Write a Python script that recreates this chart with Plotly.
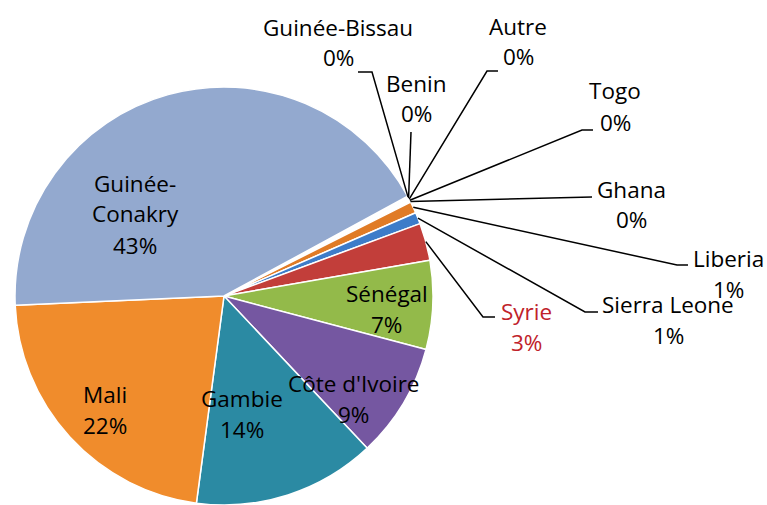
import math
import plotly.graph_objects as go

# ---- data (clockwise order, starting at the top-right small slices) ----
labels = ["Guinée-Bissau", "Benin", "Autre", "Togo", "Ghana", "Liberia",
          "Sierra Leone", "Syrie", "Sénégal", "Côte d'Ivoire", "Gambie",
          "Mali", "Guinée-Conakry"]
values = [0.1, 0.1, 0.1, 0.1, 0.1, 0.9, 0.9, 2.9, 6.9, 8.9, 14.2, 22.3, 43.0]

# ---- style ----
colors = ["#8C8C8C", "#4BACC6", "#A5A5A5", "#6F8FC0", "#3FA0BF", "#E07B26",
          "#3D7CC9", "#C23E3A", "#93BA4A", "#7557A1", "#2B8AA3", "#F08C2C",
          "#93A9CF"]
label_colors = {"Syrie": "#C0222A"}
wrap = {"Guinée-Conakry": ["Guinée-", "Conakry"]}

W, H = 767, 505
CX, CY, R = 224, 296, 209          # pie centre / radius in pixels
ROTATION = 61.5                    # degrees clockwise from 12 o'clock
FONT = "Open Sans"
FS = 22.5
GAP = 31

# label positions (centre x, y of first line), pixels
label_pos = {
    "Guinée-Bissau": (338, 27), "Benin": (416, 83), "Autre": (518, 26),
    "Togo": (615, 91), "Ghana": (631, 189), "Liberia": (728, 258),
    "Sierra Leone": (668, 304), "Syrie": (526, 311), "Sénégal": (387, 293),
    "Côte d'Ivoire": (353, 383), "Gambie": (242, 398), "Mali": (105, 394),
    "Guinée-Conakry": (135, 183),
}
# leader line bends (after the slice edge point), pixels
leader_pts = {
    "Guinée-Bissau": [(372, 72), (358, 72)],
    "Benin": [(411, 132)],
    "Autre": [(487, 71), (498, 71)],
    "Togo": [(582, 130), (593, 130)],
    "Ghana": [(592, 197)],
    "Liberia": [(677, 265), (688, 265)],
    "Sierra Leone": [(585, 312), (598, 312)],
    "Syrie": [(483, 317), (495, 317)],
}


def paper(x, y):
    return x / W, 1 - y / H


fig = go.Figure(go.Pie(
    labels=labels, values=values, sort=False, direction="clockwise",
    rotation=ROTATION, textinfo="none",
    marker=dict(colors=colors, line=dict(color="white", width=1.5)),
    domain=dict(x=[(CX - R) / W, (CX + R) / W], y=[(H - CY - R) / H, (H - CY + R) / H]),
    showlegend=False,
))

total = sum(values)
cum = 0.0
annotations, shapes = [], []
for name, v in zip(labels, values):
    mid = ROTATION + (cum + v / 2) / total * 360
    cum += v
    pct = f"{round(v / total * 100)}%"
    lines = wrap.get(name, [name]) + [pct]
    x0, y0 = label_pos[name]
    col = label_colors.get(name, "#000000")
    for i, t in enumerate(lines):
        px, py = paper(x0, y0 + i * GAP)
        annotations.append(dict(x=px, y=py, xref="paper", yref="paper", text=t,
                                showarrow=False, xanchor="center", yanchor="middle",
                                font=dict(family=FONT, size=FS, color=col)))
    if name in leader_pts:
        a = math.radians(mid)
        sx, sy = CX + R * math.sin(a), CY - R * math.cos(a)
        pts = [(sx, sy)] + leader_pts[name]
        path = "M " + " L ".join(f"{paper(x, y)[0]:.5f},{paper(x, y)[1]:.5f}" for x, y in pts)
        shapes.append(dict(type="path", path=path, xref="paper", yref="paper",
                           line=dict(color="black", width=1.5)))

fig.update_layout(width=W, height=H, margin=dict(l=0, r=0, t=0, b=0),
                  paper_bgcolor="white", plot_bgcolor="white",
                  annotations=annotations, shapes=shapes)
fig.write_html("out.html", config={"displayModeBar": False},
               post_script="document.body.style.margin='0';document.body.style.overflow='hidden';")
